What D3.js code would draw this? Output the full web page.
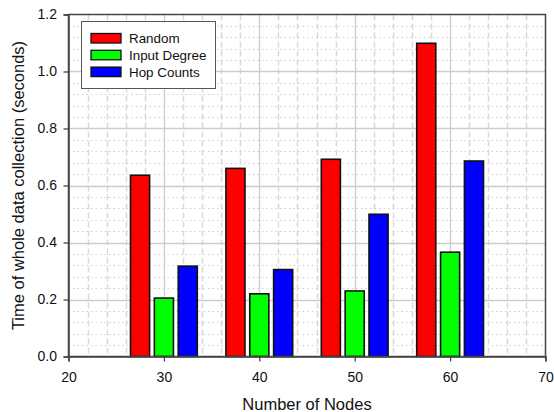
<!DOCTYPE html>
<html><head><meta charset="utf-8">
<script src="https://cdn.jsdelivr.net/npm/d3@7"></script>
<style>body{margin:0;background:#fff}svg{display:block}text{font-family:"Liberation Sans",Arial,sans-serif}</style>
</head><body><svg id="c" width="554" height="412"></svg>
<script>
const categories = [30, 40, 50, 60];
const seriesNames = ["Random", "Input Degree", "Hop Counts"];
const random = [0.636, 0.660, 0.692, 1.099];
const inputDegree = [0.205, 0.220, 0.230, 0.366];
const hopCounts = [0.317, 0.305, 0.499, 0.686];
const colors = ["#ff0000", "#00ff00", "#0000ff"];
const xTicks = [20, 30, 40, 50, 60, 70];
const yTicks = [0, 0.2, 0.4, 0.6, 0.8, 1.0, 1.2];
const series = [random, inputDegree, hopCounts];
const offsets = [-2.5, 0, 2.5];
const barW = 2;

const svg = d3.select("#c");
const L = 68.5, R = 545.5, T = 14.5, B = 356.5;
const x = d3.scaleLinear().domain([20, 70]).range([L, R]);
const y = d3.scaleLinear().domain([0, 1.2]).range([B, T]);

const g = svg.append("g");
// minor grid
const xMinor = d3.range(22, 70, 2).filter(v => v % 10 !== 0);
g.selectAll(".xm").data(xMinor).enter().append("line")
  .attr("x1", d => Math.round(x(d)) + 0.5).attr("x2", d => Math.round(x(d)) + 0.5)
  .attr("y1", T).attr("y2", B).attr("stroke", "#d9d9d9").attr("stroke-width", 1.5)
  .attr("stroke-dasharray", "6,3");
const yMinor = d3.range(0.04, 1.2, 0.04).filter(v => Math.abs(v / 0.2 - Math.round(v / 0.2)) > 1e-6);
g.selectAll(".ym").data(yMinor).enter().append("line")
  .attr("x1", L).attr("x2", R)
  .attr("y1", d => Math.round(y(d)) + 0.5).attr("y2", d => Math.round(y(d)) + 0.5)
  .attr("stroke", "#cfcfcf").attr("stroke-width", 1).attr("stroke-dasharray", "1.5,3");
// major grid
g.selectAll(".xM").data(xTicks.slice(1, -1)).enter().append("line")
  .attr("x1", d => Math.round(x(d)) + 0.5).attr("x2", d => Math.round(x(d)) + 0.5)
  .attr("y1", T).attr("y2", B).attr("stroke", "#cccccc").attr("stroke-width", 1.3);
g.selectAll(".yM").data(yTicks.slice(1, -1)).enter().append("line")
  .attr("x1", L).attr("x2", R)
  .attr("y1", d => Math.round(y(d)) + 0.5).attr("y2", d => Math.round(y(d)) + 0.5)
  .attr("stroke", "#cccccc").attr("stroke-width", 1.3);

// bars
series.forEach((s, i) => {
  svg.append("g").selectAll("rect").data(s).enter().append("rect")
    .attr("x", (d, j) => x(categories[j] + offsets[i] - barW / 2))
    .attr("width", x(barW) - x(0))
    .attr("y", d => y(d))
    .attr("height", d => y(0) - y(d))
    .attr("fill", colors[i]).attr("stroke", "#111").attr("stroke-width", 1.6);
});

// frame
svg.append("rect").attr("x", L).attr("y", T).attr("width", R - L).attr("height", B - T)
  .attr("fill", "none").attr("stroke", "#444").attr("stroke-width", 1.5);

// axes
const xAxis = d3.axisBottom(x).tickValues(xTicks).tickFormat(d3.format("d")).tickSize(5).tickPadding(10.5);
const yAxis = d3.axisLeft(y).tickValues(yTicks).tickFormat(d3.format(".1f")).tickSize(5).tickPadding(6.5);
const xg = svg.append("g").attr("transform", `translate(0,${B})`).call(xAxis);
const yg = svg.append("g").attr("transform", `translate(${L},0)`).call(yAxis);
[xg, yg].forEach(a => {
  a.select(".domain").attr("stroke", "#444").attr("stroke-width", 1.5);
  a.selectAll(".tick line").attr("stroke", "#444").attr("stroke-width", 1.3);
  a.selectAll("text").attr("font-size", 14).attr("fill", "#111")
   .attr("font-family", "'Liberation Sans', Arial, sans-serif");
});

// axis titles
svg.append("text").attr("x", (L + R) / 2).attr("y", 410).attr("text-anchor", "middle")
  .attr("font-size", 16.5).attr("fill", "#111").text("Number of Nodes");
svg.append("text").attr("transform", `translate(24,${(T + B) / 2}) rotate(-90)`)
  .attr("text-anchor", "middle").attr("font-size", 16.5).attr("fill", "#111")
  .text("Time of whole data collection (seconds)");

// legend
const lg = svg.append("g");
lg.append("rect").attr("x", 81.5).attr("y", 21.5).attr("width", 134).attr("height", 67)
  .attr("fill", "#fff").attr("stroke", "#555").attr("stroke-width", 1);
seriesNames.forEach((n, i) => {
  lg.append("rect").attr("x", 91).attr("y", 33.5 + i * 16.8).attr("width", 30).attr("height", 9.5)
    .attr("fill", colors[i]).attr("stroke", "#111").attr("stroke-width", 1.3);
  lg.append("text").attr("x", 129).attr("y", 43 + i * 16.8).attr("font-size", 13.4)
    .attr("fill", "#111").text(n);
});
</script></body></html>
